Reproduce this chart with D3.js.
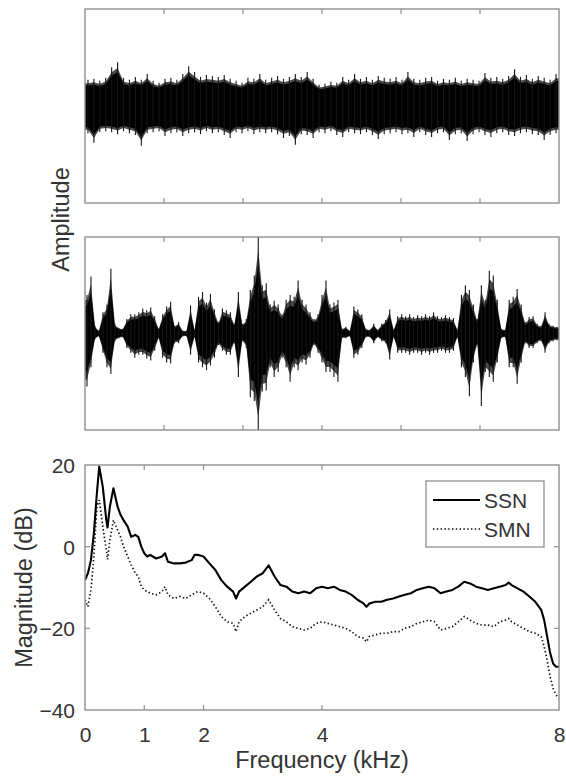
<!DOCTYPE html>
<html><head><meta charset="utf-8">
<script src="https://cdn.jsdelivr.net/npm/d3@7"></script>
<style>
html,body{margin:0;padding:0;background:#fff;}
svg text{font-family:"Liberation Sans",Arial,Helvetica,sans-serif;fill:#333;}
</style></head>
<body>
<svg id="chart" width="566" height="779"></svg>
<script>
// ---------- data ----------
// Time ticks (arbitrary time units, unlabeled in the figure)
const timeTicks = [0, 1, 2, 3, 4, 5, 6];

// Top panel (speech-shaped noise): upper / lower peak envelope per time bin
const ssnUpper = [0.27,0.28,0.26,0.29,0.40,0.45,0.29,0.27,0.30,0.27,0.33,0.26,0.24,0.28,0.29,0.27,0.33,0.41,0.35,0.30,
  0.32,0.31,0.30,0.32,0.28,0.26,0.24,0.29,0.28,0.33,0.27,0.29,0.31,0.28,0.30,0.33,0.30,0.35,0.28,0.22,
  0.23,0.25,0.24,0.30,0.27,0.33,0.28,0.30,0.27,0.31,0.29,0.28,0.30,0.27,0.35,0.28,0.27,0.29,0.30,0.26,
  0.28,0.27,0.29,0.26,0.28,0.27,0.26,0.34,0.29,0.30,0.28,0.31,0.38,0.30,0.32,0.28,0.31,0.29,0.27,0.33];
const ssnLower = [0.28,0.38,0.27,0.26,0.27,0.29,0.26,0.28,0.30,0.41,0.28,0.27,0.26,0.31,0.28,0.27,0.31,0.28,0.27,0.29,
  0.26,0.28,0.27,0.30,0.33,0.27,0.28,0.26,0.29,0.27,0.28,0.27,0.29,0.33,0.31,0.40,0.29,0.30,0.33,0.27,
  0.28,0.26,0.30,0.32,0.27,0.28,0.29,0.27,0.30,0.34,0.29,0.28,0.27,0.29,0.28,0.32,0.27,0.30,0.32,0.28,
  0.27,0.35,0.29,0.28,0.36,0.29,0.27,0.30,0.32,0.28,0.27,0.30,0.31,0.28,0.27,0.29,0.30,0.35,0.30,0.28];

// Middle panel (speech-modulated noise): upper / lower peak envelope per time bin
const smnUpper = [0.40,0.59,0.08,0.03,0.22,0.30,0.67,0.10,0.06,0.05,0.15,0.20,0.20,0.22,0.26,0.24,0.27,0.18,0.05,0.20,
  0.28,0.33,0.08,0.12,0.03,0.03,0.29,0.04,0.38,0.43,0.32,0.41,0.25,0.12,0.26,0.24,0.22,0.10,0.43,0.10,
  0.15,0.45,0.60,1.00,0.50,0.52,0.30,0.34,0.30,0.20,0.35,0.40,0.38,0.55,0.35,0.30,0.22,0.15,0.20,0.40,
  0.55,0.30,0.32,0.35,0.05,0.07,0.03,0.28,0.25,0.20,0.05,0.04,0.10,0.04,0.10,0.14,0.25,0.04,0.18,0.20,
  0.18,0.20,0.17,0.19,0.18,0.20,0.18,0.22,0.18,0.17,0.19,0.17,0.16,0.04,0.40,0.50,0.45,0.30,0.15,0.50,
  0.35,0.65,0.60,0.35,0.05,0.04,0.35,0.38,0.46,0.30,0.12,0.17,0.18,0.10,0.08,0.22,0.10,0.08,0.07];
const smnLower = [0.55,0.35,0.06,0.03,0.20,0.35,0.42,0.08,0.05,0.04,0.15,0.20,0.25,0.22,0.22,0.26,0.28,0.18,0.05,0.25,
  0.30,0.31,0.10,0.10,0.03,0.03,0.22,0.04,0.30,0.35,0.38,0.33,0.25,0.12,0.18,0.22,0.22,0.10,0.45,0.08,
  0.15,0.66,0.70,1.00,0.60,0.59,0.35,0.45,0.40,0.25,0.35,0.50,0.35,0.38,0.30,0.32,0.25,0.12,0.20,0.30,
  0.40,0.40,0.45,0.50,0.05,0.05,0.03,0.25,0.22,0.15,0.04,0.04,0.10,0.04,0.08,0.10,0.27,0.04,0.20,0.20,
  0.20,0.22,0.20,0.20,0.22,0.20,0.22,0.20,0.20,0.18,0.20,0.20,0.18,0.04,0.35,0.45,0.65,0.30,0.12,0.75,
  0.40,0.45,0.50,0.30,0.05,0.04,0.35,0.35,0.52,0.30,0.10,0.15,0.15,0.10,0.08,0.20,0.10,0.08,0.07];

// Bottom panel: long-term spectra
const freqKHz = [0,0.05,0.1,0.15,0.2,0.24,0.3,0.36,0.38,0.42,0.48,0.55,0.6,0.65,0.72,0.78,0.85,0.9,0.95,1.0,
  1.05,1.1,1.2,1.3,1.35,1.4,1.5,1.6,1.7,1.8,1.85,1.9,2.0,2.1,2.2,2.3,2.4,2.5,2.55,2.6,
  2.7,2.8,2.9,3.0,3.1,3.2,3.3,3.4,3.5,3.6,3.7,3.8,3.9,4.0,4.1,4.2,4.3,4.4,4.5,4.6,
  4.7,4.75,4.8,4.9,5.0,5.1,5.2,5.3,5.4,5.5,5.6,5.7,5.8,5.9,6.0,6.1,6.2,6.3,6.4,6.5,
  6.6,6.7,6.8,6.9,7.0,7.1,7.15,7.2,7.3,7.4,7.5,7.6,7.7,7.75,7.8,7.85,7.9,7.95,8.0];
const ssnDb = [-8.2,-6.5,-3.3,3.3,13,19.6,14.7,6.5,4.7,9.8,14.3,9.8,7.8,6.5,4.9,2.4,2.9,2.4,0,-1.6,
  -2.4,-2.0,-2.9,-2.4,-1.6,-3.7,-4.1,-4.1,-3.9,-3.3,-2.0,-2.0,-2.4,-4.1,-5.7,-8.2,-9.8,-11,-12.7,-11,
  -9.8,-8.6,-7.3,-6.5,-4.6,-7.3,-9.4,-9.8,-11,-11.4,-11,-11.4,-10.2,-9.8,-10.2,-9.8,-10.6,-11,-11.8,-13,
  -13.9,-14.7,-13.9,-13.5,-13.5,-13,-12.7,-12.2,-11.8,-11.4,-10.6,-10.2,-9.8,-10.2,-11.4,-11,-10.6,-9.8,-8.6,-9.0,
  -9.8,-10.2,-10.6,-10.2,-9.8,-9.4,-8.8,-9.4,-10.2,-11,-12.2,-13.5,-15.5,-18,-22,-26,-28.6,-29.4,-29.4];
const smnDb = [-13,-14.7,-10.6,-2.4,9.8,11.4,4.9,-0.8,-3.1,1.6,6.5,4.1,2.4,0,-2.4,-4.5,-6.5,-7.3,-9.8,-10.6,
  -11,-11.4,-11.8,-11,-9.8,-11.8,-12.7,-12.2,-12.7,-11.8,-11.4,-11,-11.4,-12.7,-14.7,-17.1,-18.4,-18.8,-20.8,-18.4,
  -17.1,-16.3,-15.5,-14.7,-13,-15.5,-17.6,-18.4,-19.6,-20,-20.4,-20,-18.8,-18.4,-18.8,-19.2,-19.6,-20,-20.8,-22,
  -22.4,-23.3,-22,-21.6,-21.2,-21.2,-20.8,-20.8,-20,-19.6,-18.8,-18.4,-18,-18.4,-20.4,-20,-19.6,-18.4,-17.1,-18,
  -18.8,-19.2,-19.2,-19.6,-18.4,-18,-17.6,-18.4,-19.2,-20,-20.8,-21.2,-22,-24.5,-27.8,-31.8,-34.7,-36.3,-37.1];

const freqTicks = [0, 1, 2, 4, 8];
const dbTicks = [-40, -20, 0, 20];
const seriesNames = ["SSN", "SMN"];

// ---------- layout ----------
const svg = d3.select("#chart");
const L = 85, R = 559;
const panels = [
  {top: 9, bottom: 203},
  {top: 237, bottom: 430},
  {top: 465, bottom: 710}
];
const axisColor = "#8f8f8f";
const tickLen = 5;

const xTime = d3.scaleLinear().domain([0, 6]).range([L, R]);
const xFreq = d3.scaleLinear().domain([0, 8]).range([L, R]);

function clip(p, id) {
  svg.append("clipPath").attr("id", id).append("rect")
    .attr("x", L).attr("y", p.top).attr("width", R - L).attr("height", p.bottom - p.top);
}

function waveform(p, upper, lower, id, coreFrac) {
  clip(p, id);
  const y = d3.scaleLinear().domain([-1, 1]).range([p.bottom, p.top]);
  const n = upper.length;
  const binT = i => (i + 0.5) * 6 / n;
  const pts = upper.map((u, i) => ({t: binT(i), u: u, l: -lower[i]}));
  const ext = [{t: 0, u: upper[0], l: -lower[0]}, ...pts, {t: 6, u: upper[n - 1], l: -lower[n - 1]}];
  const g = svg.append("g").attr("clip-path", `url(#${id})`);
  // soft fringe
  const fringe = d3.area().x(d => xTime(d.t)).y0(d => y(d.l * 0.87)).y1(d => y(d.u * 0.87));
  g.append("path").datum(ext).attr("d", fringe).attr("fill", "#4a4a4a");
  // dense core
  const core = d3.area().x(d => xTime(d.t)).y0(d => y(d.l * coreFrac)).y1(d => y(d.u * coreFrac));
  g.append("path").datum(ext).attr("d", core).attr("fill", "#000");
  // peak spikes at each bin
  g.selectAll("line.v").data(pts).join("line")
    .attr("x1", d => xTime(d.t)).attr("x2", d => xTime(d.t))
    .attr("y1", d => y(d.l)).attr("y2", d => y(d.u))
    .attr("stroke", "#151515").attr("stroke-width", 1.1);
  // frame + ticks
  const fr = svg.append("g");
  fr.append("rect").attr("x", L).attr("y", p.top).attr("width", R - L).attr("height", p.bottom - p.top)
    .attr("fill", "none").attr("stroke", axisColor).attr("stroke-width", 1.4);
  timeTicks.slice(1, -1).forEach(t => {
    fr.append("line").attr("x1", xTime(t)).attr("x2", xTime(t)).attr("y1", p.bottom).attr("y2", p.bottom - tickLen)
      .attr("stroke", axisColor).attr("stroke-width", 1.2);
    fr.append("line").attr("x1", xTime(t)).attr("x2", xTime(t)).attr("y1", p.top).attr("y2", p.top + tickLen)
      .attr("stroke", axisColor).attr("stroke-width", 1.2);
  });
}

waveform(panels[0], ssnUpper, ssnLower, "clipTop", 0.78);
waveform(panels[1], smnUpper, smnLower, "clipMid", 0.72);

// Amplitude label
svg.append("text").attr("transform", `translate(69,${(panels[0].top + panels[1].bottom) / 2}) rotate(-90)`)
  .attr("text-anchor", "middle").attr("font-size", 23.5).text("Amplitude");

// ---------- spectrum panel ----------
const p3 = panels[2];
const yDb = d3.scaleLinear().domain([-40, 20]).range([p3.bottom, p3.top]);
clip(p3, "clipBot");
const specG = svg.append("g").attr("clip-path", "url(#clipBot)");
const line = d3.line().x(d => xFreq(d[0])).y(d => yDb(d[1]));
specG.append("path").datum(freqKHz.map((f, i) => [f, smnDb[i]])).attr("d", line)
  .attr("fill", "none").attr("stroke", "#111").attr("stroke-width", 1.7).attr("stroke-dasharray", "1.4,2.4");
specG.append("path").datum(freqKHz.map((f, i) => [f, ssnDb[i]])).attr("d", line)
  .attr("fill", "none").attr("stroke", "#000").attr("stroke-width", 2.1).attr("stroke-linejoin", "round");

// axes
const ax = svg.append("g");
ax.append("rect").attr("x", L).attr("y", p3.top).attr("width", R - L).attr("height", p3.bottom - p3.top)
  .attr("fill", "none").attr("stroke", axisColor).attr("stroke-width", 1.4);
const xAxisB = d3.axisBottom(xFreq).tickValues(freqTicks).tickSize(0).tickPadding(0).tickFormat(d3.format("d"));
const gx = svg.append("g").attr("transform", `translate(0,${p3.bottom})`).call(xAxisB);
gx.select(".domain").remove();
gx.selectAll("text").attr("font-size", 21).attr("dy", null).attr("y", 32).attr("fill", "#333")
  .style("font-family", '"Liberation Sans",Arial,sans-serif');
const yAxisL = d3.axisLeft(yDb).tickValues(dbTicks).tickSize(0).tickPadding(0);
const gy = svg.append("g").attr("transform", `translate(${L},0)`).call(yAxisL);
gy.select(".domain").remove();
gy.selectAll("text").attr("font-size", 21).attr("x", -10).attr("dy", "0.36em").attr("fill", "#333")
  .style("font-family", '"Liberation Sans",Arial,sans-serif');
freqTicks.slice(1, -1).forEach(f => {
  ax.append("line").attr("x1", xFreq(f)).attr("x2", xFreq(f)).attr("y1", p3.bottom).attr("y2", p3.bottom - tickLen).attr("stroke", axisColor).attr("stroke-width", 1.2);
  ax.append("line").attr("x1", xFreq(f)).attr("x2", xFreq(f)).attr("y1", p3.top).attr("y2", p3.top + tickLen).attr("stroke", axisColor).attr("stroke-width", 1.2);
});
dbTicks.slice(1, -1).forEach(v => {
  ax.append("line").attr("x1", L).attr("x2", L + tickLen).attr("y1", yDb(v)).attr("y2", yDb(v)).attr("stroke", axisColor).attr("stroke-width", 1.2);
  ax.append("line").attr("x1", R).attr("x2", R - tickLen).attr("y1", yDb(v)).attr("y2", yDb(v)).attr("stroke", axisColor).attr("stroke-width", 1.2);
});

svg.append("text").attr("x", (L + R) / 2).attr("y", 768).attr("text-anchor", "middle")
  .attr("font-size", 23.5).text("Frequency (kHz)");
svg.append("text").attr("transform", `translate(32,${(p3.top + p3.bottom) / 2}) rotate(-90)`)
  .attr("text-anchor", "middle").attr("font-size", 23.5).text("Magnitude (dB)");

// legend
const lg = svg.append("g");
lg.append("rect").attr("x", 426).attr("y", 481).attr("width", 118).attr("height", 66)
  .attr("fill", "#fff").attr("stroke", axisColor).attr("stroke-width", 1.3);
seriesNames.forEach((name, i) => {
  const yy = 500 + i * 29;
  lg.append("line").attr("x1", 433).attr("x2", 480).attr("y1", yy).attr("y2", yy)
    .attr("stroke", "#000").attr("stroke-width", i === 0 ? 2.1 : 1.7)
    .attr("stroke-dasharray", i === 0 ? null : "1.4,2.4");
  lg.append("text").attr("x", 484).attr("y", yy).attr("dy", "0.36em").attr("font-size", 21).text(name);
});
</script>
</body></html>
